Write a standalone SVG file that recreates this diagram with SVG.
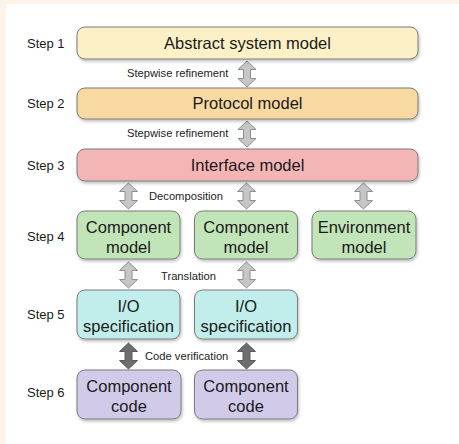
<svg xmlns="http://www.w3.org/2000/svg" width="459" height="444" viewBox="0 0 459 444">
<style>
.bg{fill:#fcf4e8}
.box{stroke:#7a7a7a;stroke-width:1;filter:url(#sh)}
.t{font-family:"Liberation Sans",Arial,sans-serif;font-size:16.5px;fill:#1a1a1a;text-anchor:middle}
.s{font-family:"Liberation Sans",Arial,sans-serif;font-size:13px;fill:#1a1a1a}
.c{font-family:"Liberation Sans",Arial,sans-serif;font-size:11.2px;fill:#222}
.a{fill:#c6c6c6;stroke:#8e8e8e;stroke-width:1}
.d{fill:#6e6e6e;stroke:#5a5a5a;stroke-width:1}
</style>
<defs>
<filter id="sh" x="-10%" y="-20%" width="125%" height="150%">
<feDropShadow dx="1" dy="2" stdDeviation="1.5" flood-color="#000" flood-opacity="0.25"/>
</filter>
<path id="dbl" d="M0,0 L9,8.5 L3.5,8.5 L3.5,17.5 L9,17.5 L0,26 L-9,17.5 L-3.5,17.5 L-3.5,8.5 L-9,8.5 Z"/>
</defs>
<rect class="bg" x="0" y="0" width="459" height="444"/>
<rect x="6" y="4" width="453" height="440" fill="#ffffff"/>

<g id="labels">
<text class="s" x="27" y="47.5">Step 1</text>
<text class="s" x="27" y="108">Step 2</text>
<text class="s" x="27" y="169.5">Step 3</text>
<text class="s" x="27" y="241">Step 4</text>
<text class="s" x="27" y="318.5">Step 5</text>
<text class="s" x="27" y="397">Step 6</text>
</g>

<g id="connectors">
<use href="#dbl" class="a" x="247" y="61"/>
<use href="#dbl" class="a" x="247" y="121"/>
<use href="#dbl" class="a" x="128.5" y="183"/>
<use href="#dbl" class="a" x="246.5" y="183"/>
<use href="#dbl" class="a" x="363.5" y="183"/>
<use href="#dbl" class="a" x="128.5" y="262"/>
<use href="#dbl" class="a" x="246.5" y="262"/>
<use href="#dbl" class="d" x="128.5" y="343"/>
<use href="#dbl" class="d" x="246.5" y="343"/>
<text class="c" x="127" y="77">Stepwise refinement</text>
<text class="c" x="127" y="137">Stepwise refinement</text>
<text class="c" x="149" y="200">Decomposition</text>
<text class="c" x="161" y="279.5">Translation</text>
<text class="c" x="145" y="360">Code verification</text>
</g>

<g id="abstract">
<rect class="box" x="77" y="27" width="341" height="32" rx="8" fill="#fcf1c6"/>
<text class="t" x="247.5" y="48.5">Abstract system model</text>
</g>
<g id="protocol">
<rect class="box" x="77" y="88" width="341" height="31" rx="8" fill="#f8d9a1"/>
<text class="t" x="247.5" y="109">Protocol model</text>
</g>
<g id="interface">
<rect class="box" x="77" y="149" width="341" height="32" rx="8" fill="#f4b5b5"/>
<text class="t" x="247.5" y="170.5">Interface model</text>
</g>
<g id="comp1">
<rect class="box" x="77" y="211" width="103" height="48" rx="8" fill="#c1e5b9"/>
<text class="t" x="128.5" y="232.5">Component</text>
<text class="t" x="128.5" y="252.5">model</text>
</g>
<g id="comp2">
<rect class="box" x="194.5" y="211" width="103" height="48" rx="8" fill="#c1e5b9"/>
<text class="t" x="246" y="232.5">Component</text>
<text class="t" x="246" y="252.5">model</text>
</g>
<g id="env">
<rect class="box" x="312" y="211" width="104" height="48" rx="8" fill="#c1e5b9"/>
<text class="t" x="364" y="232.5">Environment</text>
<text class="t" x="364" y="252.5">model</text>
</g>
<g id="io1">
<rect class="box" x="77" y="290" width="103" height="49" rx="8" fill="#c1eeea"/>
<text class="t" x="128.5" y="312">I/O</text>
<text class="t" x="128.5" y="331.5">specification</text>
</g>
<g id="io2">
<rect class="box" x="194.5" y="290" width="103" height="49" rx="8" fill="#c1eeea"/>
<text class="t" x="246" y="312">I/O</text>
<text class="t" x="246" y="331.5">specification</text>
</g>
<g id="code1">
<rect class="box" x="77" y="370" width="104" height="49" rx="8" fill="#d2cae9"/>
<text class="t" x="129" y="391.5">Component</text>
<text class="t" x="129" y="411.5">code</text>
</g>
<g id="code2">
<rect class="box" x="194.5" y="370" width="103" height="49" rx="8" fill="#d2cae9"/>
<text class="t" x="246" y="391.5">Component</text>
<text class="t" x="246" y="411.5">code</text>
</g>
</svg>
